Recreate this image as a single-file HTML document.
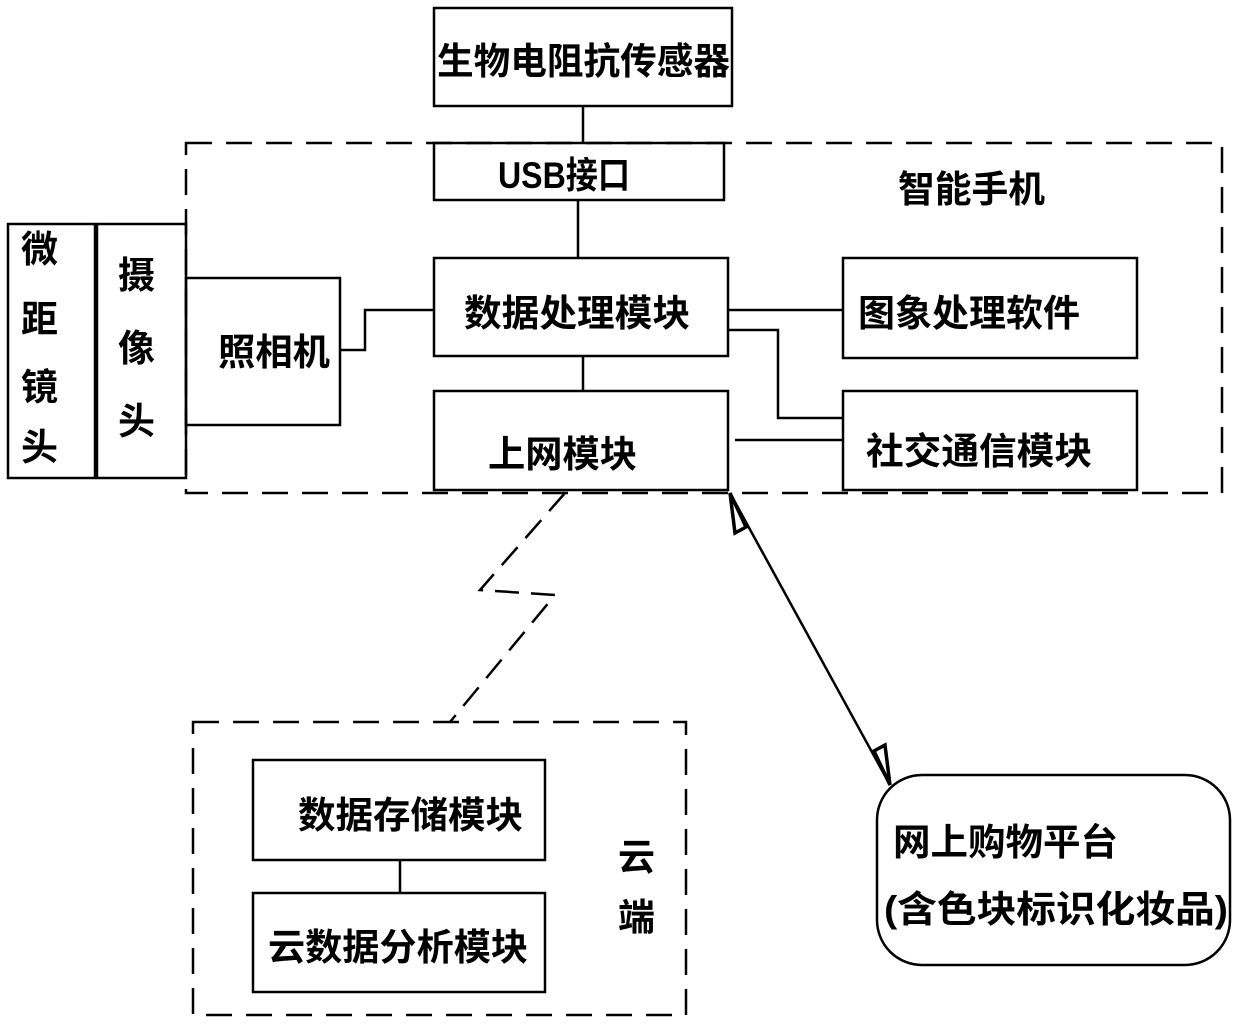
<!DOCTYPE html>
<html><head><meta charset="utf-8"><style>
html,body{margin:0;padding:0;background:#fff;width:1240px;height:1024px;overflow:hidden}
text{font-family:"Liberation Sans","Noto Sans CJK SC",sans-serif;font-weight:bold;font-size:37px;fill:#000}
</style></head><body>
<svg width="1240" height="1024" viewBox="0 0 1240 1024" xmlns="http://www.w3.org/2000/svg">
<g fill="none" stroke="#000" stroke-width="2.5">
<rect x="186" y="143" width="1036" height="350" stroke-dasharray="26,14"/>
<rect x="193" y="722" width="493" height="293" stroke-dasharray="26,14"/>
<rect x="434" y="8" width="298" height="98"/>
<rect x="434" y="143" width="290" height="57"/>
<rect x="434" y="258" width="294" height="98"/>
<rect x="434" y="391" width="294" height="99"/>
<rect x="843" y="258" width="294" height="100"/>
<rect x="843" y="391" width="294" height="99"/>
<rect x="186" y="278" width="154" height="147"/>
<rect x="97" y="224" width="89" height="254"/>
<rect x="8" y="224" width="87" height="254"/>
<rect x="253" y="760" width="292" height="100"/>
<rect x="253" y="893" width="292" height="99"/>
<rect x="877" y="775" width="353" height="190" rx="45"/>
<path d="M583 106V143M578 200V258M583 356V391M340 350H365V310H434M728 310H843M728 330H778V418H843M735 440H843M400 860V893"/>
<path d="M565 493L480 590L555 595L450 722" stroke-dasharray="24,12"/>
<path d="M730 493L890 785"/>
<path d="M730 493L746 527L735 533Z M890 785L874 751L885 745Z" fill="#fff" stroke-width="3.5"/>
</g>
<text x="437" y="74" textLength="293" lengthAdjust="spacingAndGlyphs">生物电阻抗传感器</text>
<text x="498" y="188" font-size="32" textLength="132" lengthAdjust="spacingAndGlyphs">USB接口</text>
<text x="898" y="202" textLength="147" lengthAdjust="spacingAndGlyphs">智能手机</text>
<text x="464" y="326" textLength="226" lengthAdjust="spacingAndGlyphs">数据处理模块</text>
<text x="858" y="326" textLength="222" lengthAdjust="spacingAndGlyphs">图象处理软件</text>
<text x="488" y="467" textLength="149" lengthAdjust="spacingAndGlyphs">上网模块</text>
<text x="866" y="464" textLength="226" lengthAdjust="spacingAndGlyphs">社交通信模块</text>
<text x="218" y="365" textLength="112" lengthAdjust="spacingAndGlyphs">照相机</text>
<text x="118" y="288">摄</text><text x="118" y="361">像</text><text x="118" y="434">头</text>
<text x="21" y="262">微</text><text x="21" y="332">距</text><text x="21" y="400">镜</text><text x="21" y="460">头</text>
<text x="298" y="828" textLength="225" lengthAdjust="spacingAndGlyphs">数据存储模块</text>
<text x="268" y="960" textLength="260" lengthAdjust="spacingAndGlyphs">云数据分析模块</text>
<text x="618" y="870">云</text><text x="618" y="930">端</text>
<text x="893" y="855" textLength="225" lengthAdjust="spacingAndGlyphs">网上购物平台</text>
<text x="884" y="922" textLength="344" lengthAdjust="spacingAndGlyphs">(含色块标识化妆品)</text>
</svg>
</body></html>
